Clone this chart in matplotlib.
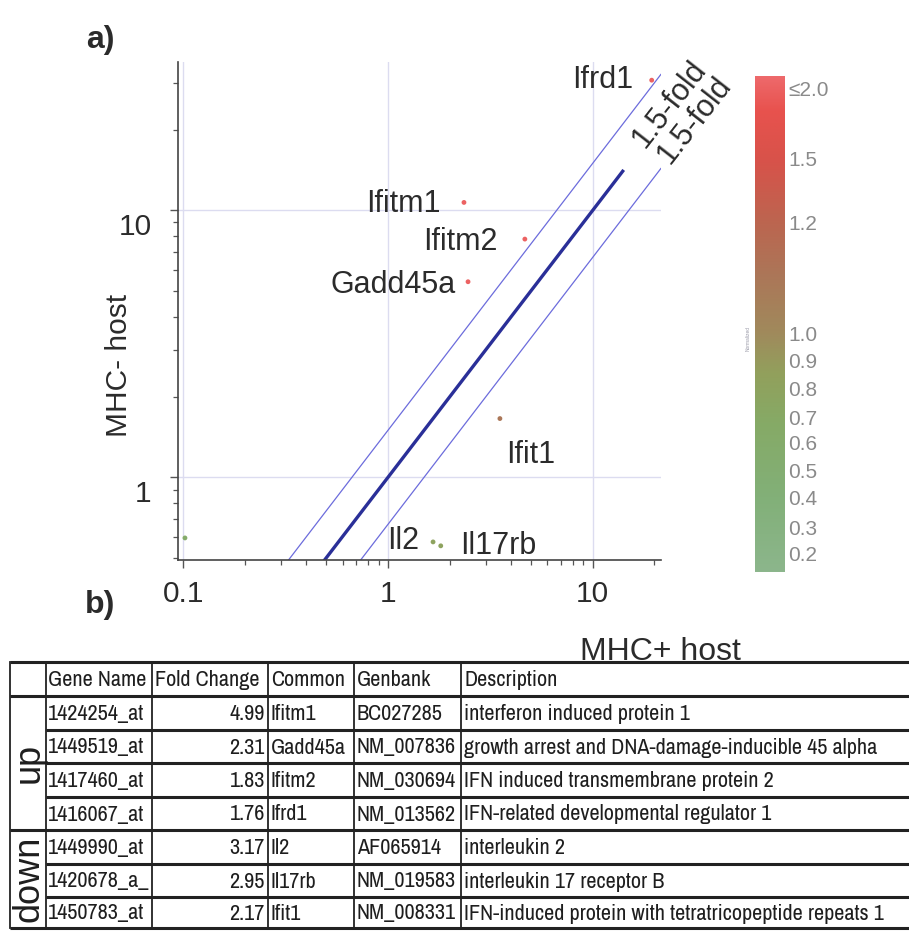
"""
MHC+ vs MHC- host: scatter of expression with 1.5-fold lines (a) and gene table (b)
"""

import numpy as np
import matplotlib
matplotlib.use("Agg")
import matplotlib.pyplot as plt
from matplotlib import font_manager
from matplotlib.colors import LinearSegmentedColormap
from matplotlib.transforms import ScaledTranslation


# ── Data ──────────────────────────────────────────────────────────────────

genes    = ["Ifrd1", "Ifitm1", "Ifitm2", "Gadd45a", "Ifit1", "Il2", "Il17rb", ""]
mhc_pos  = [19.4, 2.35, 4.66, 2.46, 3.52, 1.66, 1.81, 0.102]     # x, MHC+ host
mhc_neg  = [30.7, 10.7, 7.80, 5.40, 1.66, 0.573, 0.554, 0.593]   # y, MHC- host
expr     = [2.0, 2.0, 2.0, 2.0, 1.1, 0.8, 0.8, 0.62]             # colour value

FOLD = 1.5
diag_range = (0.49, 14.0)
fold_range = (0.327, 21.5)

cb_vals   = [0.2, 0.3, 0.4, 0.5, 0.6, 0.7, 0.8, 0.9, 1.0, 1.2, 1.5, 2.0]
cb_labels = ["0.2", "0.3", "0.4", "0.5", "0.6", "0.7", "0.8", "0.9",
             "1.0", "1.2", "1.5", "≤2.0"]

tab_header = ["Gene Name", "Fold Change", "Common", "Genbank", "Description"]
tab_group  = ["up", "up", "up", "up", "down", "down", "down"]
tab_probe  = ["1424254_at", "1449519_at", "1417460_at", "1416067_at",
              "1449990_at", "1420678_a_", "1450783_at"]
tab_fold   = [4.99, 2.31, 1.83, 1.76, 3.17, 2.95, 2.17]
tab_common = ["Ifitm1", "Gadd45a", "Ifitm2", "Ifrd1", "Il2", "Il17rb", "Ifit1"]
tab_genbank = ["BC027285", "NM_007836", "NM_030694", "NM_013562",
               "AF065914", "NM_019583", "NM_008331"]
tab_desc   = ["interferon induced protein 1",
              "growth arrest and DNA-damage-inducible 45 alpha",
              "IFN induced transmembrane protein 2",
              "IFN-related developmental regulator 1",
              "interleukin 2",
              "interleukin 17 receptor B",
              "IFN-induced protein with tetratricopeptide repeats 1"]


# ── Style ─────────────────────────────────────────────────────────────────

plt.rcParams["font.family"] = ["Liberation Sans", "DejaVu Sans"]
installed = {f.name for f in font_manager.fontManager.ttflist}
TAB_FONT, TAB_SIZE = ["Liberation Sans", "DejaVu Sans"], 12.8
for name in ("Liberation Sans Narrow", "Arial Narrow", "Archivo Narrow"):
    if name in installed:
        TAB_FONT, TAB_SIZE = [name, "DejaVu Sans"], 16
        break

TXT = "#2b2b2b"
cb_pos    = [0.038, 0.091, 0.151, 0.205, 0.262, 0.312, 0.370, 0.427,
             0.481, 0.704, 0.833, 0.974]
cmap = LinearSegmentedColormap.from_list("expr", [
    (0.00, "#8cb68c"), (0.15, "#82b078"), (0.30, "#86aa66"),
    (0.40, "#92a05c"), (0.48, "#a08a5c"), (0.60, "#ac7658"),
    (0.70, "#bb6650"), (0.83, "#d8524a"), (0.93, "#e8524e"),
    (1.00, "#ee6a6c")])

fig = plt.figure(figsize=(9.09, 9.35), dpi=100)
fig.patch.set_facecolor("white")

# ── a) scatter ────────────────────────────────────────────────────────────

ax = fig.add_axes([0.196, 0.401, 0.531, 0.533])
ax.set_xscale("log")
ax.set_yscale("log")
ax.set_xlim(0.0945, 21.5)
ax.set_ylim(0.49, 36)

for s in ("top", "right"):
    ax.spines[s].set_visible(False)
for s in ("left", "bottom"):
    ax.spines[s].set_color("#444444")
    ax.spines[s].set_linewidth(1.2)

ax.grid(True, which="major", color="#dcdcf0", linewidth=1.0)
ax.set_axisbelow(True)
ax.tick_params(which="major", length=6, width=1.0, color="#555555",
               labelsize=21.5, labelcolor=TXT)
ax.tick_params(which="minor", length=3.5, width=0.9, color="#555555")
ax.tick_params(axis="y", pad=13)
ax.tick_params(axis="x", pad=8)
ax.set_xticks([0.1, 1, 10], ["0.1", "1", "10"])
ax.set_yticks([1, 10], ["1", "10"])
for lbl in ax.get_yticklabels():
    lbl.set_transform(lbl.get_transform() + ScaledTranslation(0, -0.14, fig.dpi_scale_trans))

# diagonal and 1.5-fold lines
xd = np.array(diag_range)
ax.plot(xd, xd, color="#2a2f98", linewidth=2.4, zorder=2)
xf = np.array(fold_range)
ax.plot(xf, xf * FOLD, color="#6c6cdc", linewidth=0.9, zorder=2)
ax.plot(xf, xf / FOLD, color="#6c6cdc", linewidth=0.9, zorder=2)
ax.annotate("1.5-fold", xy=(xf[1], xf[1] * FOLD), xytext=(6, -21),
            textcoords="offset points", rotation=52, rotation_mode="anchor",
            ha="center", va="center", fontsize=22, color=TXT,
            annotation_clip=False)
ax.annotate("1.5-fold", xy=(xf[1], xf[1] / FOLD), xytext=(24, 35),
            textcoords="offset points", rotation=52, rotation_mode="anchor",
            ha="center", va="center", fontsize=22, color=TXT,
            annotation_clip=False)

colors = cmap(np.interp(expr, cb_vals, cb_pos))
ax.scatter(mhc_pos, mhc_neg, s=12, c=colors, edgecolors="none", zorder=3,
           clip_on=False)

# gene labels: (dx, dy) in points, alignment
label_pos = {
    "Ifrd1":   ((-13, 0), "right"),
    "Ifitm1":  ((-17, -1), "right"),
    "Ifitm2":  ((-20, -2), "right"),
    "Gadd45a": ((-9, -2), "right"),
    "Ifit1":   ((22, -26), "center"),
    "Il2":     ((-10, 1), "right"),
    "Il17rb":  ((14, 0), "left"),
}
for g, x, y in zip(genes, mhc_pos, mhc_neg):
    if g not in label_pos:
        continue
    off, ha = label_pos[g]
    ax.annotate(g, xy=(x, y), xytext=off, textcoords="offset points",
                ha=ha, va="center", fontsize=22, color=TXT,
                annotation_clip=False)

ax.set_xlabel("MHC+ host", fontsize=23, color=TXT)
ax.xaxis.set_label_coords(1.0, -0.155)
ax.set_ylabel("MHC- host", fontsize=21.5, color=TXT)
ax.yaxis.set_label_coords(-0.093, 0.39)

# colour bar
cax = fig.add_axes([0.831, 0.388, 0.033, 0.531])
grad = np.linspace(0, 1, 256).reshape(-1, 1)
cax.imshow(grad, aspect="auto", cmap=cmap, origin="lower", extent=[0, 1, 0, 1])
cax.set_xlim(0, 1)
cax.set_ylim(0, 1)
for s in cax.spines.values():
    s.set_visible(False)
cax.set_xticks([])
cax.yaxis.tick_right()
cax.set_yticks(cb_pos, cb_labels)
cax.tick_params(axis="y", length=0, pad=2, labelsize=15, labelcolor="#8a8a8a")
cax.text(-0.25, 0.47, "Normalized", rotation=90, fontsize=3.5, color="#9a9aa8",
         ha="center", va="center", transform=cax.transAxes)

fig.text(0.11, 0.957, "a)", fontsize=23, fontweight="bold", color=TXT,
         ha="center", va="center")
fig.text(0.11, 0.353, "b)", fontsize=23, fontweight="bold", color=TXT,
         ha="center", va="center")

# ── b) table ──────────────────────────────────────────────────────────────

tab = fig.add_axes([0, 0, 1, 1])
tab.set_xlim(0, 909)
tab.set_ylim(935, 0)
tab.axis("off")

col_x = [10, 46, 152, 268, 354, 461]
right = 909
row_y = [662, 696, 730, 763, 797, 830, 864, 897, 928]
LC = "#222222"

for x in col_x:
    tab.plot([x, x], [row_y[0], row_y[-1]], color=LC, linewidth=1.3)
for i, y in enumerate(row_y):
    # group boundaries span the merged first column
    full = i in (0, 1, len(row_y) - 1) or tab_group[i - 1] != tab_group[i - 2]
    x0 = col_x[0] if full else col_x[1]
    tab.plot([x0, right], [y, y], color=LC, linewidth=2.2,
             solid_capstyle="butt")

kw = dict(fontsize=TAB_SIZE, family=TAB_FONT, color="#1e1e1e", va="center")
yc = (row_y[0] + row_y[1]) / 2 + 1
hx = [col_x[1] + 2, col_x[2] + 3, col_x[3] + 3, col_x[4] + 3, col_x[5] + 4]
for h, x in zip(tab_header, hx):
    tab.text(x, yc, h, ha="left", **kw)

for i in range(len(tab_probe)):
    yc = (row_y[i + 1] + row_y[i + 2]) / 2 + 1
    tab.text(col_x[1] + 2, yc, tab_probe[i], ha="left", **kw)
    tab.text(col_x[3] - 3, yc, f"{tab_fold[i]:.2f}", ha="right", **kw)
    tab.text(col_x[3] + 3, yc, tab_common[i], ha="left", **kw)
    tab.text(col_x[4] + 3, yc, tab_genbank[i], ha="left", **kw)
    tab.text(col_x[5] + 3, yc, tab_desc[i], ha="left", **kw)

# merged group cells
for grp in ("up", "down"):
    idx = [i for i, g in enumerate(tab_group) if g == grp]
    y0, y1 = row_y[idx[0] + 1], row_y[idx[-1] + 2]
    tab.text((col_x[0] + col_x[1]) / 2 + 1, (y0 + y1) / 2, grp, rotation=90,
             ha="center", va="center", fontsize=26, color="#1e1e1e")

fig.savefig("out.png", dpi=100, facecolor=fig.get_facecolor())
